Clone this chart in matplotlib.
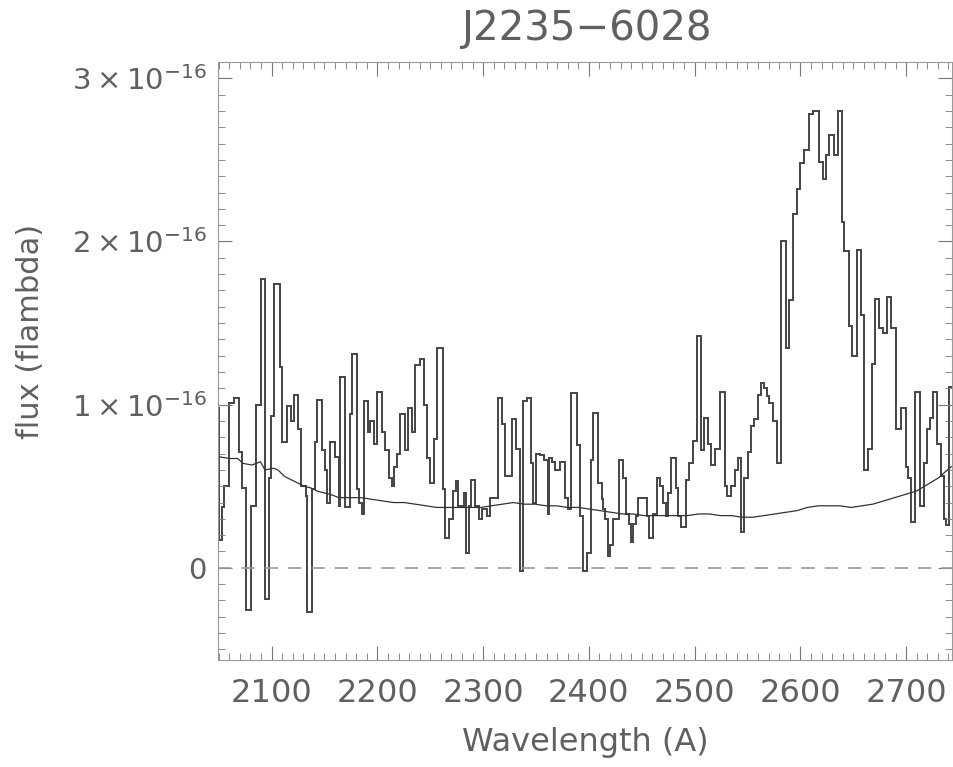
import numpy as np
import matplotlib
matplotlib.use('Agg')
import matplotlib.pyplot as plt
from matplotlib.ticker import MultipleLocator, FuncFormatter

# спектр: левые края бинов (A) и поток в единицах 1e-16
wave = [2048.3, 2050.4, 2053.0, 2055.0, 2059.6, 2064.4, 2069.1, 2072.3, 2075.5, 2080.3,
        2084.9, 2089.5, 2093.6, 2097.5, 2099.8, 2102.2, 2107.6, 2110.1, 2114.8, 2118.0,
        2121.0, 2124.9, 2128.0, 2132.1, 2133.6, 2138.4, 2140.7, 2143.1, 2147.8, 2150.3,
        2152.4, 2155.5, 2159.6, 2163.5, 2165.1, 2169.8, 2173.9, 2176.4, 2180.8, 2182.4,
        2185.5, 2187.1, 2190.9, 2193.4, 2196.6, 2199.6, 2204.4, 2207.6, 2210.7, 2213.9,
        2215.4, 2218.5, 2221.7, 2226.4, 2228.6, 2232.7, 2235.8, 2240.6, 2243.7, 2246.8,
        2250.0, 2253.1, 2256.3, 2261.6, 2264.1, 2268.0, 2271.9, 2273.9, 2276.7, 2281.5,
        2283.9, 2286.2, 2288.4, 2292.5, 2296.5, 2298.8, 2303.5, 2306.6, 2313.9, 2317.6,
        2320.8, 2327.1, 2331.1, 2334.9, 2337.4, 2341.2, 2345.0, 2347.6, 2350.2, 2353.8,
        2357.9, 2361.0, 2362.5, 2364.8, 2367.9, 2372.6, 2377.4, 2380.5, 2382.7, 2388.4,
        2391.5, 2394.7, 2397.8, 2401.6, 2404.0, 2408.8, 2412.0, 2413.5, 2415.6, 2418.2,
        2419.8, 2422.9, 2428.6, 2432.4, 2435.0, 2438.0, 2440.3, 2441.9, 2444.3, 2446.5,
        2455.4, 2456.9, 2460.7, 2464.5, 2467.0, 2470.1, 2472.7, 2474.8, 2477.4, 2482.0,
        2484.3, 2487.4, 2492.1, 2494.9, 2498.1, 2501.9, 2506.3, 2508.5, 2512.5, 2515.7,
        2518.9, 2523.6, 2528.3, 2530.5, 2534.6, 2537.8, 2540.9, 2544.1, 2547.1, 2550.3,
        2553.5, 2556.6, 2559.7, 2562.9, 2566.0, 2568.3, 2570.7, 2573.9, 2577.6, 2581.8,
        2586.5, 2589.6, 2593.4, 2596.5, 2599.7, 2603.8, 2607.8, 2611.6, 2617.9, 2621.0,
        2624.2, 2627.4, 2632.1, 2635.2, 2639.0, 2641.5, 2645.6, 2649.3, 2653.5, 2657.3,
        2660.4, 2663.5, 2667.3, 2670.5, 2674.6, 2678.3, 2682.4, 2685.6, 2690.8, 2695.6,
        2699.7, 2701.9, 2704.4, 2708.5, 2712.9, 2717.0, 2720.1, 2722.4, 2725.5, 2729.6,
        2732.8, 2735.9, 2737.4, 2740.6]
wave_end = 2744.7
flux = [0.98, 0.17, 0.37, 0.50, 1.01, 1.04, 0.71, 0.49, -0.26, 0.38,
        1.00, 1.77, -0.19, 0.55, 0.93, 1.74, 1.23, 0.77, 0.99, 0.90,
        1.06, 0.85, 0.50, 0.44, -0.27, 0.48, 0.77, 1.03, 0.72, 0.60,
        0.40, 0.77, 0.68, 0.38, 1.17, 0.37, 0.94, 1.31, 0.48, 0.40,
        0.33, 1.02, 0.83, 0.90, 0.76, 1.08, 0.83, 0.72, 0.55, 0.50,
        0.62, 0.70, 0.94, 0.72, 0.98, 0.83, 1.24, 1.28, 1.00, 0.67,
        0.52, 0.79, 1.35, 0.48, 0.18, 0.30, 0.47, 0.53, 0.38, 0.46,
        0.09, 0.38, 0.54, 0.38, 0.30, 0.36, 0.32, 0.43, 1.04, 0.88,
        0.56, 0.91, 0.73, -0.02, 1.02, 1.04, 0.64, 0.40, 0.70, 0.69,
        0.66, 0.33, 0.67, 0.65, 0.60, 0.65, 0.43, 0.36, 1.07, 0.75,
        0.32, -0.02, 0.09, 0.66, 0.95, 0.52, 0.42, 0.36, 0.30, 0.07,
        0.14, 0.30, 0.66, 0.55, 0.33, 0.27, 0.16, 0.27, 0.32, 0.43,
        0.32, 0.18, 0.33, 0.55, 0.50, 0.40, 0.32, 0.46, 0.67, 0.49,
        0.32, 0.25, 0.54, 0.64, 0.78, 1.42, 0.72, 0.92, 0.76, 0.63,
        0.73, 1.08, 0.50, 0.44, 0.50, 0.60, 0.67, 0.22, 0.55, 0.71,
        0.87, 0.91, 1.06, 1.13, 1.10, 1.05, 1.01, 0.90, 0.64, 2.00,
        1.35, 1.64, 2.17, 2.32, 2.48, 2.56, 2.78, 2.80, 2.49, 2.38,
        2.53, 2.65, 2.53, 2.80, 2.12, 1.94, 1.48, 1.30, 1.95, 1.55,
        0.60, 0.73, 1.25, 1.65, 1.47, 1.44, 1.66, 1.47, 0.85, 0.98,
        0.62, 0.55, 0.28, 1.08, 0.38, 0.64, 0.85, 0.92, 1.08, 0.76,
        0.56, 0.30, 0.26, 1.11]

# ошибка потока
err_wave = [2050.4, 2060.7, 2067.9, 2073.0, 2081.3, 2089.5, 2093.6, 2101.9, 2106.0, 2112.2,
            2118.4, 2124.6, 2130.7, 2136.9, 2143.1, 2149.3, 2155.5, 2163.7, 2174.0, 2184.3,
            2194.6, 2204.9, 2215.2, 2225.5, 2235.8, 2246.1, 2256.4, 2266.7, 2277.0, 2287.3,
            2297.6, 2307.9, 2318.2, 2328.5, 2338.8, 2349.1, 2359.4, 2369.7, 2380.0, 2390.3,
            2400.6, 2410.9, 2421.3, 2431.6, 2441.9, 2452.2, 2462.5, 2472.8, 2483.1, 2493.4,
            2503.7, 2514.0, 2524.3, 2534.6, 2544.9, 2555.2, 2565.5, 2575.8, 2586.1, 2596.4,
            2606.7, 2617.0, 2627.3, 2637.6, 2647.9, 2658.2, 2668.5, 2678.8, 2689.1, 2699.4,
            2709.7, 2720.0, 2730.3, 2742.7]
err_flux = [0.68, 0.67, 0.67, 0.64, 0.63, 0.65, 0.60, 0.61, 0.60, 0.56,
            0.54, 0.52, 0.50, 0.49, 0.47, 0.46, 0.45, 0.43, 0.43, 0.43,
            0.42, 0.41, 0.40, 0.40, 0.39, 0.38, 0.37, 0.37, 0.37, 0.37,
            0.37, 0.38, 0.39, 0.40, 0.39, 0.39, 0.38, 0.38, 0.37, 0.37,
            0.36, 0.35, 0.34, 0.33, 0.33, 0.32, 0.32, 0.32, 0.32, 0.32,
            0.33, 0.33, 0.32, 0.32, 0.31, 0.31, 0.32, 0.33, 0.34, 0.35,
            0.37, 0.38, 0.38, 0.38, 0.37, 0.38, 0.39, 0.41, 0.43, 0.45,
            0.47, 0.51, 0.55, 0.62]

SCALE = 1e-16
plt.rcParams['mathtext.fontset'] = 'dejavusans'

fig = plt.figure(figsize=(9.54, 7.67), dpi=100)
ax = fig.add_axes([218 / 954, 1 - 660 / 767, (952 - 218) / 954, (660 - 62) / 767])

ax.stairs(np.array(flux) * SCALE, wave + [wave_end], color='#444444', lw=1.4, baseline=None)
ax.plot(err_wave, np.array(err_flux) * SCALE, color='#333333', lw=0.9)
ax.axhline(0, color='#999999', lw=1.2, ls=(0, (8, 6)))

ax.set_xlim(2049.3, 2743.4)
ax.set_ylim(-0.565e-16, 3.1e-16)

ax.xaxis.set_major_locator(MultipleLocator(100))
ax.xaxis.set_minor_locator(MultipleLocator(10))
ax.yaxis.set_major_locator(MultipleLocator(1e-16))
ax.yaxis.set_minor_locator(MultipleLocator(1e-17))


def yfmt(v, pos):
    n = int(round(v / SCALE))
    if n == 0:
        return '0'
    return r'$%d\times10^{-16}$' % n


ax.yaxis.set_major_formatter(FuncFormatter(yfmt))
ax.tick_params(which='both', direction='in', top=True, right=True, color='#777777',
               labelcolor='#606060')
ax.tick_params(which='major', length=10, width=0.8)
ax.tick_params(which='minor', length=5, width=0.6)
ax.tick_params(axis='x', pad=13, labelsize=23)
ax.tick_params(axis='y', pad=8, labelsize=21)
for s in ax.spines.values():
    s.set_color('#999999')
    s.set_linewidth(0.8)

ax.set_xlabel('Wavelength (A)', fontsize=23, color='#606060')
ax.xaxis.set_label_coords(0.5, -0.112)
ax.set_ylabel('flux (flambda)', fontsize=22, color='#606060')
ax.yaxis.set_label_coords(-0.236, 0.55)
fig.text(586 / 954, 1 - 29 / 767, 'J2235\u22126028', fontsize=29, color='#606060',
         ha='center', va='center')

fig.savefig('out.png', dpi=100)
